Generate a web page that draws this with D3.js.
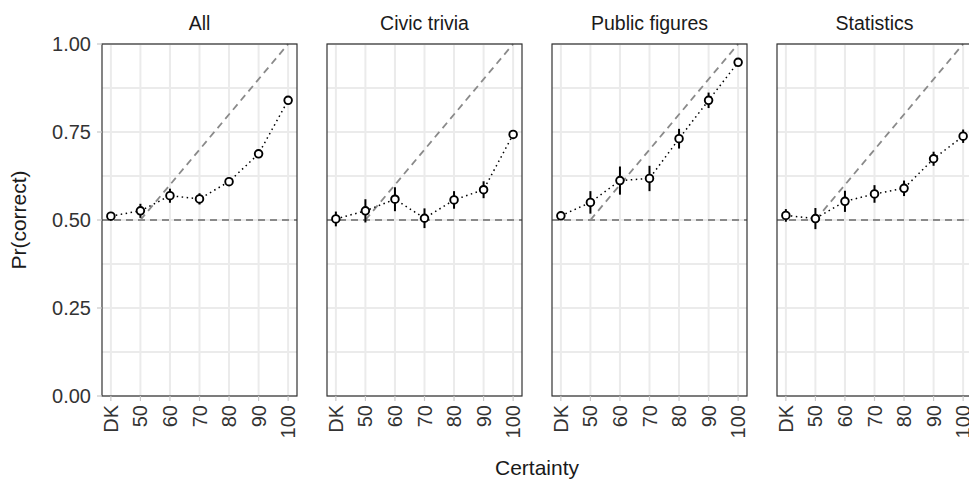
<!DOCTYPE html>
<html lang="en">
<head>
<meta charset="UTF-8">
<title>Pr(correct) by certainty</title>
<script src="https://d3js.org/d3.v7.min.js"></script>
<style>
  body { margin: 0; background: #fff; }
  text { font-family: "Liberation Sans", Arial, sans-serif; }
</style>
</head>
<body>
<div id="chart"></div>
<script>
// certainty levels (DK plotted at 40)
var levels = [40, 50, 60, 70, 80, 90, 100];
var levelLabels = ["DK", "50", "60", "70", "80", "90", "100"];
var panelNames = ["All", "Civic trivia", "Public figures", "Statistics"];
var yTicks = [0, 0.25, 0.5, 0.75, 1];

// estimates and interval half-widths per panel
var allEst = [0.511, 0.526, 0.569, 0.560, 0.609, 0.688, 0.840];
var allErr = [0.008, 0.020, 0.020, 0.016, 0.012, 0.011, 0.007];
var civicEst = [0.503, 0.526, 0.559, 0.505, 0.557, 0.586, 0.743];
var civicErr = [0.021, 0.033, 0.034, 0.028, 0.025, 0.024, 0.010];
var publicEst = [0.512, 0.550, 0.612, 0.618, 0.731, 0.840, 0.948];
var publicErr = [0.012, 0.032, 0.040, 0.036, 0.028, 0.022, 0.006];
var statsEst = [0.513, 0.504, 0.553, 0.574, 0.590, 0.674, 0.738];
var statsErr = [0.018, 0.030, 0.030, 0.025, 0.022, 0.020, 0.019];

var series = [
  {est: allEst, err: allErr},
  {est: civicEst, err: civicErr},
  {est: publicEst, err: publicErr},
  {est: statsEst, err: statsErr}
];

var W = 969, H = 479;
var panelLeft = 102, panelW = 195, panelGap = 30;
var plotTop = 44, plotBottom = 396;

var svg = d3.select("#chart").append("svg")
  .attr("width", W).attr("height", H);

var y = d3.scaleLinear().domain([0, 1]).range([plotBottom, plotTop]);
var pad = (100 - 40) * 0.05;

panelNames.forEach(function(name, i) {
  var x0 = panelLeft + i * (panelW + panelGap);
  var x = d3.scaleLinear().domain([40 - pad, 100 + pad]).range([x0, x0 + panelW]);
  var g = svg.append("g");
  var s = series[i];

  // grid
  d3.range(0, 1.0001, 0.125).forEach(function(v) {
    g.append("line")
      .attr("x1", x0).attr("x2", x0 + panelW)
      .attr("y1", y(v)).attr("y2", y(v))
      .attr("stroke", "#ebebeb").attr("stroke-width", 2);
  });
  levels.forEach(function(l) {
    g.append("line")
      .attr("x1", x(l)).attr("x2", x(l))
      .attr("y1", plotTop).attr("y2", plotBottom)
      .attr("stroke", "#ebebeb").attr("stroke-width", 2);
  });

  // reference lines
  g.append("line")
    .attr("x1", x0).attr("x2", x0 + panelW)
    .attr("y1", y(0.5)).attr("y2", y(0.5))
    .attr("stroke", "#8a8a8a").attr("stroke-width", 1.8)
    .attr("stroke-dasharray", "7,5");
  g.append("line")
    .attr("x1", x(50)).attr("x2", x(100))
    .attr("y1", y(0.5)).attr("y2", y(1))
    .attr("stroke", "#8a8a8a").attr("stroke-width", 1.8)
    .attr("stroke-dasharray", "7,5");

  // dotted connecting line
  g.append("path")
    .datum(levels)
    .attr("fill", "none")
    .attr("stroke", "#000").attr("stroke-width", 1.5)
    .attr("stroke-dasharray", "1.5,3.5")
    .attr("d", d3.line()
      .x(function(d) { return x(d); })
      .y(function(d, j) { return y(s.est[j]); }));

  // error bars
  g.selectAll(".err").data(levels).enter().append("line")
    .attr("x1", function(d) { return x(d); })
    .attr("x2", function(d) { return x(d); })
    .attr("y1", function(d, j) { return y(s.est[j] - s.err[j]); })
    .attr("y2", function(d, j) { return y(s.est[j] + s.err[j]); })
    .attr("stroke", "#000").attr("stroke-width", 2);

  // points
  g.selectAll(".pt").data(levels).enter().append("circle")
    .attr("cx", function(d) { return x(d); })
    .attr("cy", function(d, j) { return y(s.est[j]); })
    .attr("r", 3.8)
    .attr("fill", "#fff").attr("stroke", "#000").attr("stroke-width", 1.9);

  // border
  g.append("rect")
    .attr("x", x0).attr("y", plotTop)
    .attr("width", panelW).attr("height", plotBottom - plotTop)
    .attr("fill", "none").attr("stroke", "#333").attr("stroke-width", 1.2);

  // x ticks and labels
  levels.forEach(function(l, j) {
    g.append("line")
      .attr("x1", x(l)).attr("x2", x(l))
      .attr("y1", plotBottom).attr("y2", plotBottom + 5)
      .attr("stroke", "#c8c8c8").attr("stroke-width", 1.2);
    g.append("text")
      .attr("transform", "translate(" + (x(l) + 7) + "," + (plotBottom + 9) + ")rotate(-90)")
      .attr("text-anchor", "end")
      .attr("font-size", 20)
      .attr("fill", "#333")
      .text(levelLabels[j]);
  });

  // strip title
  g.append("text")
    .attr("x", x0 + panelW / 2).attr("y", 30)
    .attr("text-anchor", "middle")
    .attr("font-size", 19.5)
    .attr("fill", "#1a1a1a")
    .text(name);
});

// y axis
var yAxis = svg.append("g");
yTicks.forEach(function(v) {
  yAxis.append("line")
    .attr("x1", panelLeft - 5).attr("x2", panelLeft)
    .attr("y1", y(v)).attr("y2", y(v))
    .attr("stroke", "#c8c8c8").attr("stroke-width", 1.2);
  yAxis.append("text")
    .attr("x", panelLeft - 11).attr("y", y(v) + 7)
    .attr("text-anchor", "end")
    .attr("font-size", 20)
    .attr("fill", "#333")
    .text(d3.format(".2f")(v));
});

svg.append("text")
  .attr("transform", "translate(26," + ((plotTop + plotBottom) / 2) + ")rotate(-90)")
  .attr("text-anchor", "middle")
  .attr("font-size", 21)
  .attr("fill", "#1a1a1a")
  .text("Pr(correct)");

svg.append("text")
  .attr("x", 537).attr("y", 475)
  .attr("text-anchor", "middle")
  .attr("font-size", 21)
  .attr("fill", "#1a1a1a")
  .text("Certainty");
</script>
</body>
</html>
